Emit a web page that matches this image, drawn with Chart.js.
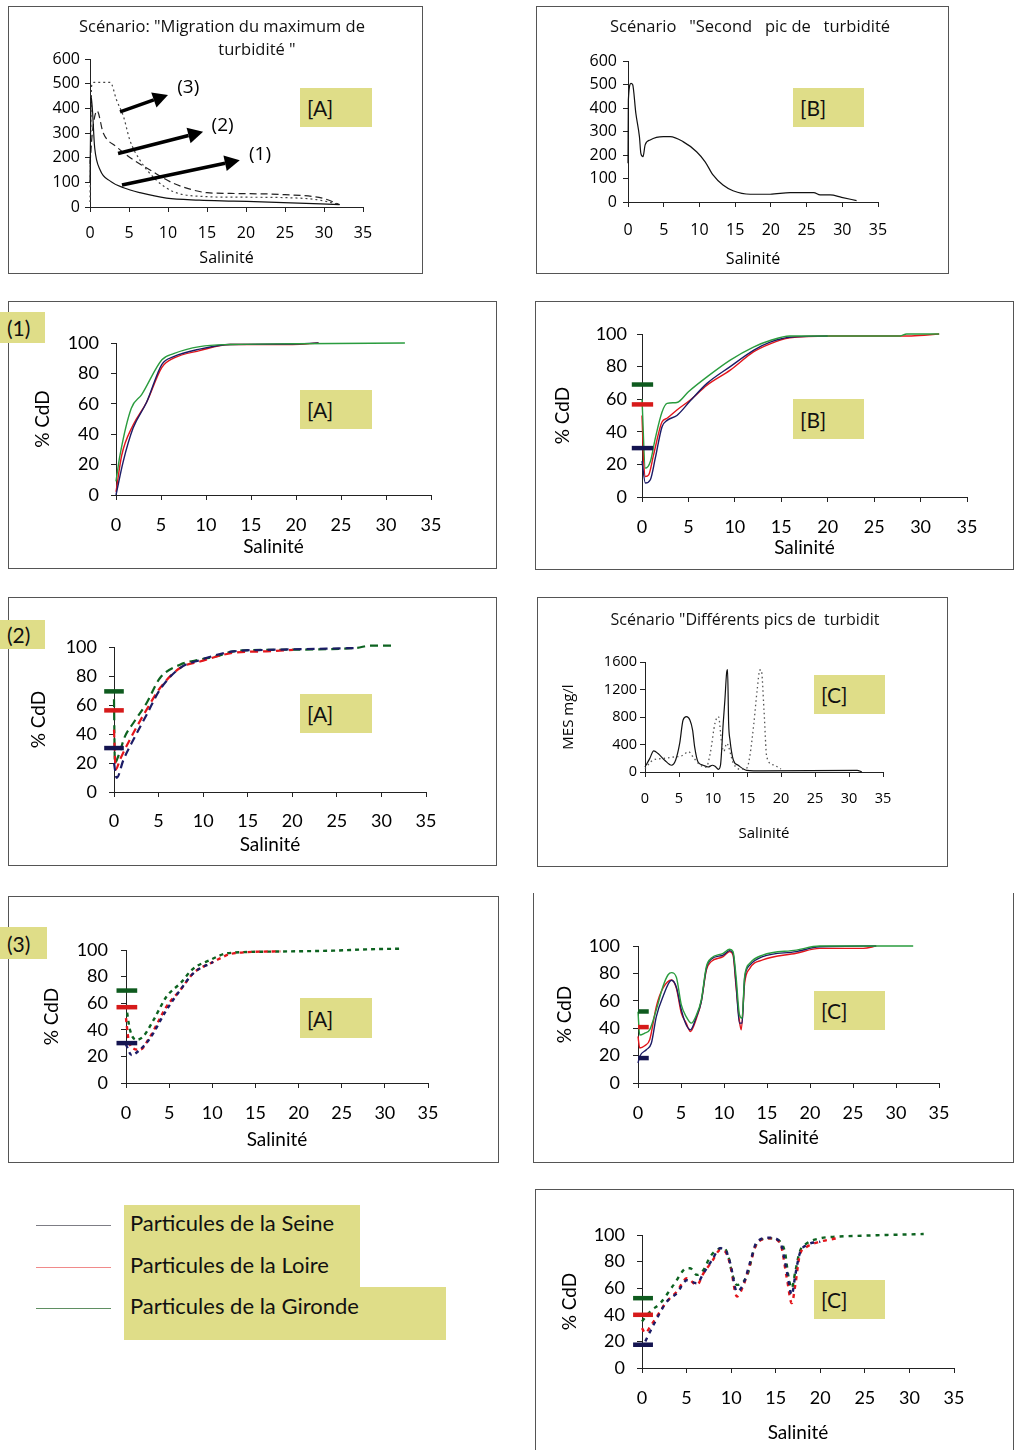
<!DOCTYPE html>
<html lang="fr">
<head>
<meta charset="utf-8">
<title>% CdD en fonction de la salinité</title>
<script src="https://cdn.jsdelivr.net/npm/chart.js@4.4.1/dist/chart.umd.min.js"></script>
<style>
  body { margin: 0; background: #fff; width: 1014px; height: 1450px; position: relative; overflow: hidden; font-family: Lato, sans-serif; }
  .frame { position: absolute; border: 1px solid #555; box-sizing: border-box; }
  canvas { position: absolute; }
  .tag { position: absolute; background: #dfdd88; color: #111; font-family: Lato, sans-serif; font-size: 21px;
         box-sizing: border-box; padding-left: 7px; display: flex; align-items: center; }
  .legend-line { position: absolute; height: 1px; width: 75px; left: 36px; }
  .legend-bg { position: absolute; background: #dfdd88; }
  .legend-text { position: absolute; left: 130px; font-family: Lato, sans-serif; font-size: 22px; color: #111; line-height: 26px; }
</style>
</head>
<body>
<script>
// ---- MES (mg/l) : scénario [A] migration du maximum de turbidité
const mesA1S = [0, 0.15, 0.6, 1.3, 2.6, 4.3, 6.4, 9.8, 14, 18.4, 24.8, 32];
const mesA1V = [100, 450, 240, 150, 105, 78, 58, 36, 28, 24, 18, 10];
const mesA2S = [0, 0.3, 0.9, 1.7, 3.4, 5.6, 7.7, 10.7, 13.2, 15, 18, 25, 29.9, 32];
const mesA2V = [175, 300, 390, 300, 244, 190, 150, 96, 69, 58, 55, 50, 35, 10];
const mesA3S = [0, 0.2, 0.5, 2.6, 3.4, 4.3, 5.1, 6.4, 8.5, 10.7, 15, 18, 25, 29, 32];
const mesA3V = [20, 490, 505, 505, 434, 366, 272, 190, 109, 62, 42, 40, 38, 30, 10];
// flèches (1) (2) (3)
const arrowFromS = [4.1, 3.6, 3.85], arrowFromV = [89, 217, 386];
const arrowToS = [19.2, 14.5, 10.0], arrowToV = [190, 305, 454];
const arrowLabS = [21.8, 17, 12.6], arrowLabV = [211, 332, 486];
const arrowLabels = ['(1)', '(2)', '(3)'];

// ---- MES : scénario [B] second pic de turbidité
const mesBS = [0, 0.05, 0.42, 0.65, 1.1, 1.6, 1.8, 2.1, 2.4, 3.1, 4.95, 5.9, 7.7, 9.6, 10.8, 11.9, 13.3, 14.7, 17.1, 19.9, 22.7, 26, 26.9, 28.3, 29.9, 32];
const mesBV = [165, 434, 505, 500, 377, 278, 207, 193, 243, 264, 278, 278, 257, 214, 171, 115, 72, 48, 33, 33, 40, 40, 30, 30, 20, 6];

// ---- MES : scénario [C] différents pics de turbidité
const mesC1S = [0, 0.69, 1.28, 1.92, 2.9, 3.9, 4.5, 5.1, 5.6, 6.1, 6.6, 7, 7.3, 7.8, 8.55, 9.3, 9.9, 10.3, 10.8, 11.1, 11.5, 11.75, 12, 12.14, 12.3, 12.5, 13, 13.7, 14.95, 17.4, 31.2, 31.9];
const mesC1V = [73, 195, 307, 268, 171, 98, 171, 415, 756, 805, 756, 610, 366, 146, 98, 73, 98, 83, 39, 98, 707, 1049, 1440, 1488, 707, 463, 171, 98, 24, 15, 24, 0];
const mesC2S = [0, 1.2, 2.5, 4, 5.5, 6.4, 7.2, 8, 9, 9.6, 10.3, 10.8, 11.3, 11.6, 12, 13, 14, 15, 15.4, 16, 16.5, 16.9, 17.1, 17.5, 17.9, 18.9, 20];
const mesC2V = [49, 175, 195, 215, 240, 295, 200, 110, 70, 276, 713, 805, 400, 300, 417, 126, 40, 60, 223, 700, 1200, 1484, 1484, 900, 223, 102, 44];

// ---- % CdD, scénario (1) [A]
const p1aSeineS = [0, 0.8, 1.9, 3.4, 5.1, 6.4, 9.3, 12.7, 19.6, 22.5];
const p1aSeineV = [0, 22, 44, 61, 86, 91, 96, 99, 99.3, 100];
const p1aLoireS = [0, 0.63, 1.9, 3.4, 5.1, 6.4, 9.3, 12.7, 19.6, 22.5];
const p1aLoireV = [2, 26, 46, 61, 84, 90, 95, 99, 99, 100];
const p1aGirondeS = [0, 0.44, 1.7, 2.85, 5.1, 6.4, 9.3, 12.7, 20, 32.1];
const p1aGirondeV = [9, 26, 57, 66, 89, 93, 97.6, 99, 99.5, 100];

// ---- % CdD, scénario [B]
const p1bStart = [30, 56.8, 69];   // Seine, Loire, Gironde
const p1bSeineS = [0, 0.36, 0.9, 1.43, 2.15, 2.7, 3.76, 5.2, 7, 9.5, 12, 13.8, 15.9, 20];
const p1bSeineV = [22, 8.6, 10.6, 23.8, 43, 47, 50, 59, 69.7, 80, 90, 95, 98, 98.8];
const p1bLoireS = [0, 0.18, 0.36, 0.72, 1.25, 2.15, 2.7, 3.76, 5.2, 7, 9.5, 12, 13.8, 15.9, 20.2, 29, 32];
const p1bLoireV = [50, 22, 12.6, 13.6, 26, 46, 48.3, 53.4, 59.5, 68.6, 77.8, 89, 94, 97.6, 98.8, 98.8, 100];
const p1bGirondeS = [0, 0.36, 0.9, 1.43, 2.15, 2.7, 3.76, 5, 7, 9.5, 12, 13.8, 15.9, 27.8, 28.5, 32];
const p1bGirondeV = [60, 17.7, 21.8, 36, 52, 57.4, 58, 64.6, 73.7, 84, 92, 96, 98.8, 98.8, 100, 100];

// ---- % CdD, scénario (2) [A]
const p2aStart = [30.3, 56.3, 69.4];
const p2aSeineS = [0, 0.3, 1.05, 2.17, 3.66, 5.16, 7.4, 9.65, 13.4, 17.1, 27.2];
const p2aSeineV = [20, 9.7, 22, 36, 53.3, 70.6, 85.5, 91, 97, 98, 99.3];
const p2aLoireS = [0, 0.19, 0.67, 2.17, 3.66, 5.16, 7.4, 9.65, 13.4, 17.1, 20.1];
const p2aLoireV = [43, 15.4, 22.3, 40.7, 56.8, 71.7, 85.5, 90, 96, 97, 98];
const p2aGirondeS = [0, 0.1, 0.5, 1.23, 2.17, 3.66, 5.16, 7.4, 9.65, 11.5, 13.4, 17.1, 27.2, 28.7, 31.3];
const p2aGirondeV = [64, 20, 25, 38.4, 47.6, 61.4, 78.6, 87.8, 91.3, 93.6, 97, 98, 99.3, 101, 101];

// ---- % CdD, scénario (3) [A]
const p3aStart = [30, 57, 69.5];
const p3aSeineS = [0, 0.66, 1.6, 2.8, 4.7, 6.3, 7.8, 10.1];
const p3aSeineV = [28.75, 21, 25, 33.75, 55, 70, 82.5, 91];
const p3aLoireS = [0, 0.27, 0.85, 1.6, 2.8, 4.7, 6.3, 7.8, 10.1, 12.45, 17.9];
const p3aLoireV = [48.75, 33.75, 26, 25, 35, 57.5, 70, 82.5, 91, 97.5, 99];
const p3aGirondeS = [0, 0.46, 1.24, 2, 3.2, 4.7, 6.3, 7.8, 9.75, 11.7, 16.3, 24, 27.9, 31.8];
const p3aGirondeV = [58.75, 40, 32.5, 35, 47.5, 65, 75, 86, 92.5, 97.5, 98.75, 99.5, 100.5, 101];

// ---- % CdD, scénario [C] (traits pleins)
const p3cStart = [18.2, 40.8, 52.2];
const p3cSeineS = [0, 0.2, 0.97, 1.55, 2.13, 2.9, 3.9, 4.46, 5.04, 5.6, 6.1, 6.8, 7.36, 7.95, 8.5, 9.9, 10.66, 11.05, 11.4, 11.8, 12.1, 12.4, 13, 14.5, 18.4, 21.1, 27.7];
const p3cSeineV = [14.6, 19.4, 24.3, 29, 48.5, 63, 75, 70, 53.4, 42.5, 38.8, 48.5, 59.5, 83.7, 90.3, 93.4, 96.6, 94.7, 72.8, 43.7, 43.7, 76.4, 86, 92.2, 95.9, 99.5, 100];
const p3cLoireS = [0, 0.2, 0.78, 1.36, 2.13, 2.9, 3.9, 4.46, 5.04, 5.6, 6.1, 6.8, 7.36, 7.95, 8.5, 9.9, 10.66, 11.05, 11.4, 11.8, 12, 12.4, 13, 14.5, 18.4, 21.1, 26.2, 27.7];
const p3cLoireV = [34, 25.5, 27.2, 31.6, 55.8, 69.2, 75.2, 69.2, 51, 43.7, 37.6, 47.3, 59.5, 82.5, 88.6, 92.2, 95.9, 93.4, 70.4, 45, 38.8, 72.8, 83.7, 89.8, 94.7, 98.3, 98.3, 100];
const p3cGirondeS = [0, 0.2, 0.78, 1.36, 2.13, 2.9, 3.5, 3.9, 4.46, 5.04, 5.6, 6.2, 6.8, 7.36, 7.95, 8.5, 9.9, 10.66, 11.05, 11.4, 11.8, 12.1, 12.4, 13, 14.5, 18.4, 21.1, 32];
const p3cGirondeV = [52, 35, 36.4, 38.8, 53.4, 70.4, 79, 80.6, 77.2, 57, 48.5, 43.7, 49.8, 60.7, 85, 91, 94.7, 97.6, 95.9, 77.7, 49.8, 47.3, 77.7, 87.4, 93.4, 97, 100, 100];

// ---- % CdD, scénario [C] (tirets)
const p4cStart = [17.5, 40, 52.5];
const p4cSeineS = [0.37, 1.3, 2.8, 3.92, 5.04, 6.16, 6.9, 7.84, 8.78, 9.34, 9.9, 10.65, 11.4, 12.15, 12.9, 14.4, 15.5, 16.25, 16.8, 17.2, 17.7, 18.5, 20];
const p4cSeineV = [20, 32.5, 50, 56.25, 66, 63.75, 71.25, 81, 90, 88.75, 78.75, 57.5, 63.75, 80, 95, 98, 94.5, 72.5, 55, 70, 86.25, 92.5, 95];
const p4cLoireS = [0, 0.37, 0.93, 2.8, 3.92, 5.04, 6.16, 6.9, 7.84, 8.78, 9.34, 9.9, 10.65, 11.4, 12.15, 12.9, 14.4, 15.5, 16.25, 16.8, 17.2, 17.7, 18.5, 20, 21.85];
const p4cLoireV = [30, 26.25, 31.25, 50, 57.5, 67.5, 62.5, 71.25, 80, 88.75, 87.5, 77.5, 53.75, 62.5, 78.75, 93.75, 97.5, 93.75, 67.5, 48.75, 62.5, 85, 91.25, 95, 97.5];
const p4cGirondeS = [0, 0.93, 2.05, 3.55, 5.04, 5.4, 6.16, 6.9, 7.66, 8.4, 9.15, 9.7, 10.1, 10.65, 11.4, 11.95, 12.5, 13.26, 14.4, 15.5, 16.06, 16.4, 16.8, 17.2, 17.7, 18.5, 20, 21.85, 24.8, 31.6];
const p4cGirondeV = [35, 42.5, 48.75, 62.5, 75, 75, 70, 73.75, 83.75, 88.75, 90.5, 83.75, 71.25, 62.5, 65, 72.5, 87.5, 96.25, 97.5, 95, 86.25, 70, 60, 72.5, 87.5, 93.75, 97.5, 98.75, 99.5, 100.75];

const xTicks = [0, 5, 10, 15, 20, 25, 30, 35];

const SEINE = '#1c1c66', LOIRE = '#e3151b', GIRONDE = '#2a9c3e', GIRONDE_DARK = '#0d6320';
const BAR_COLORS = ['#141450', '#d61a1a', '#0e5a1e'];

Chart.defaults.font.family = 'Lato, sans-serif';

function pts(xs, ys) {
    return xs.map((x, i) => ({x: x, y: ys[i]}));
}

function curve(xs, ys, color, width, dash) {
    return {
        data: pts(xs, ys), borderColor: color, borderWidth: width, borderDash: dash || [],
        pointRadius: 0, cubicInterpolationMode: 'monotone', clip: false, fill: false
    };
}

// short thick marks giving the initial value of each series
function startBars(values, from, to) {
    return values.map((v, i) => ({
        data: pts([from, to], [v, v]), borderColor: BAR_COLORS[i], borderWidth: 4.5,
        pointRadius: 0, clip: false, fill: false
    }));
}

// text drawn on the canvas at page coordinates
const pageText = {
    id: 'pageText',
    afterDraw(chart, args, opts) {
        const ctx = chart.ctx;
        (opts.items || []).forEach(it => {
            ctx.save();
            ctx.font = it.font;
            ctx.fillStyle = '#111';
            ctx.textAlign = it.align || 'center';
            ctx.textBaseline = 'middle';
            ctx.fillText(it.text, it.x - opts.left, it.y - opts.top);
            ctx.restore();
        });
    }
};

// arrows of the first chart, placed with the scales
const arrows = {
    id: 'arrows',
    afterDatasetsDraw(chart, args, opts) {
        if (!opts.show) return;
        const ctx = chart.ctx, xs = chart.scales.x, ys = chart.scales.y;
        arrowFromS.forEach((s, i) => {
            const x1 = xs.getPixelForValue(s), y1 = ys.getPixelForValue(arrowFromV[i]);
            const x2 = xs.getPixelForValue(arrowToS[i]), y2 = ys.getPixelForValue(arrowToV[i]);
            const a = Math.atan2(y2 - y1, x2 - x1);
            const hx = x2 - 15 * Math.cos(a), hy = y2 - 15 * Math.sin(a);
            ctx.save();
            ctx.strokeStyle = '#000';
            ctx.fillStyle = '#000';
            ctx.lineWidth = 3.5;
            ctx.beginPath();
            ctx.moveTo(x1, y1);
            ctx.lineTo(hx, hy);
            ctx.stroke();
            ctx.beginPath();
            ctx.moveTo(x2, y2);
            ctx.lineTo(hx + 8 * Math.sin(a), hy - 8 * Math.cos(a));
            ctx.lineTo(hx - 8 * Math.sin(a), hy + 8 * Math.cos(a));
            ctx.closePath();
            ctx.fill();
            ctx.font = '19px "Open Sans"';
            ctx.textAlign = 'center';
            ctx.textBaseline = 'middle';
            ctx.fillText(arrowLabels[i], xs.getPixelForValue(arrowLabS[i]), ys.getPixelForValue(arrowLabV[i]));
            ctx.restore();
        });
    }
};

function makePanel(cfg) {
    const [l, t, r, b] = cfg.box;
    const w = r - l, h = b - t;
    const frame = document.createElement('div');
    frame.className = 'frame';
    frame.style.cssText = `left:${l}px;top:${t}px;width:${w}px;height:${h}px;` + (cfg.frameExtra || '');
    document.body.appendChild(frame);

    const cv = document.createElement('canvas');
    cv.width = w;
    cv.height = h;
    cv.style.left = l + 'px';
    cv.style.top = t + 'px';
    document.body.appendChild(cv);

    const [x0, yTop, x1, yBot] = cfg.plot;
    const fam = cfg.family, tickSize = cfg.tickSize, titleSize = cfg.titleSize;
    const tl = 5;
    const tickLH = tickSize * 1.2, titleLH = titleSize * 1.2;

    new Chart(cv, {
        type: 'line',
        data: {datasets: cfg.datasets},
        options: {
            responsive: false,
            animation: false,
            devicePixelRatio: 1,
            events: [],
            layout: {padding: {left: 0, top: yTop - t, right: r - x1, bottom: 0}},
            plugins: {
                legend: {display: false},
                tooltip: {enabled: false},
                pageText: {items: cfg.texts || [], left: l, top: t},
                arrows: {show: !!cfg.arrows}
            },
            scales: {
                x: {
                    type: 'linear', min: 0, max: 35,
                    afterFit: s => { s.height = b - yBot; },
                    afterBuildTicks: s => { s.ticks = xTicks.map(v => ({value: v})); },
                    ticks: {autoSkip: false, maxRotation: 0, color: '#000',
                            padding: cfg.xLabelY - yBot - tl - tickLH / 2,
                            font: {family: fam, size: tickSize}},
                    grid: {drawOnChartArea: false, drawTicks: true, tickLength: tl, color: '#222'},
                    border: {color: '#222', width: 1},
                    title: {display: true, text: 'Salinité', color: '#000',
                            font: {family: fam, size: titleSize},
                            padding: {top: 0, bottom: b - cfg.xTitleY - titleLH / 2}}
                },
                y: {
                    min: 0, max: cfg.yMax,
                    afterFit: s => { s.width = x0 - l; },
                    ticks: {stepSize: cfg.yStep, color: '#000',
                            callback: v => String(v),
                            padding: x0 - tl - cfg.yLabelRight,
                            font: {family: fam, size: tickSize}},
                    grid: {drawOnChartArea: false, drawTicks: true, tickLength: tl, color: '#222'},
                    border: {color: '#222', width: 1},
                    title: cfg.yTitle ? {display: true, text: cfg.yTitle, color: '#000',
                            font: {family: fam, size: titleSize},
                            padding: {top: cfg.yTitleX - l - titleLH / 2, bottom: 0}} : {display: false}
                }
            }
        },
        plugins: [pageText, arrows]
    });
}

function tag(text, x0, y0, x1, y1) {
    const d = document.createElement('div');
    d.className = 'tag';
    d.style.cssText = `left:${x0}px;top:${y0}px;width:${x1 - x0}px;height:${y1 - y0}px;`;
    d.textContent = text;
    document.body.appendChild(d);
}

const OS = '"Open Sans", sans-serif';
const LT = 'Lato, sans-serif';

// [A] MES
makePanel({
    box: [8, 6, 423, 274], plot: [90, 59, 363, 207],
    family: OS, tickSize: 16, titleSize: 16, yMax: 600, yStep: 100,
    yLabelRight: 80, xLabelY: 233, xTitleY: 258, arrows: true,
    texts: [
        {text: 'Scénario: "Migration du maximum de', x: 222, y: 27, font: '16.5px "Open Sans"'},
        {text: 'turbidité "', x: 257, y: 50, font: '16.5px "Open Sans"'}
    ],
    datasets: [
        curve(mesA1S, mesA1V, '#111', 1.2),
        curve(mesA2S, mesA2V, '#222', 1.2, [7, 4]),
        curve(mesA3S, mesA3V, '#444', 1.2, [2, 3])
    ]
});
tag('[A]', 300, 88, 372, 127);

// [B] MES
makePanel({
    box: [536, 6, 949, 274], plot: [628, 61, 878, 202],
    family: OS, tickSize: 16, titleSize: 16, yMax: 600, yStep: 100,
    yLabelRight: 617, xLabelY: 230, xTitleY: 259,
    texts: [{text: 'Scénario   "Second   pic de   turbidité', x: 750, y: 27, font: '16.5px "Open Sans"'}],
    datasets: [curve(mesBS, mesBV, '#111', 1.2)]
});
tag('[B]', 793, 88, 864, 127);

// (1) [A]
makePanel({
    box: [8, 301, 497, 569], plot: [116, 343, 431, 495],
    family: LT, tickSize: 18, titleSize: 19, yMax: 100, yStep: 20,
    yLabelRight: 99, xLabelY: 525, xTitleY: 547, yTitle: '% CdD', yTitleX: 43,
    datasets: [
        curve(p1aGirondeS, p1aGirondeV, GIRONDE, 1.4),
        curve(p1aSeineS, p1aSeineV, SEINE, 1.4),
        curve(p1aLoireS, p1aLoireV, LOIRE, 1.4)
    ]
});
tag('(1)', 0, 312, 45, 343);
tag('[A]', 300, 390, 372, 429);

// [B] % CdD
makePanel({
    box: [535, 301, 1014, 570], plot: [642, 334, 967, 497],
    family: LT, tickSize: 18, titleSize: 19, yMax: 100, yStep: 20,
    yLabelRight: 627, xLabelY: 527, xTitleY: 548, yTitle: '% CdD', yTitleX: 563,
    datasets: [
        ...startBars(p1bStart, -1.1, 1.2),
        curve(p1bGirondeS, p1bGirondeV, GIRONDE, 1.4),
        curve(p1bSeineS, p1bSeineV, SEINE, 1.4),
        curve(p1bLoireS, p1bLoireV, LOIRE, 1.4)
    ]
});
tag('[B]', 793, 399, 864, 439);

// (2) [A]
makePanel({
    box: [8, 597, 497, 866], plot: [114, 647, 426, 792],
    family: LT, tickSize: 18, titleSize: 19, yMax: 100, yStep: 20,
    yLabelRight: 97, xLabelY: 821, xTitleY: 845, yTitle: '% CdD', yTitleX: 39,
    datasets: [
        ...startBars(p2aStart, -1.1, 1.1),
        curve(p2aSeineS, p2aSeineV, SEINE, 2.2, [8, 5]),
        curve(p2aLoireS, p2aLoireV, LOIRE, 2.2, [8, 5]),
        curve(p2aGirondeS, p2aGirondeV, GIRONDE_DARK, 2.2, [8, 5])
    ]
});
tag('(2)', 0, 620, 45, 649);
tag('[A]', 300, 694, 372, 733);

// [C] MES
makePanel({
    box: [537, 597, 948, 867], plot: [645, 662, 883, 772],
    family: OS, tickSize: 14.5, titleSize: 15, yMax: 1600, yStep: 400,
    yLabelRight: 637, xLabelY: 799, xTitleY: 834, yTitle: 'MES mg/l', yTitleX: 569,
    texts: [{text: 'Scénario "Différents pics de  turbidit', x: 745, y: 620, font: '16px "Open Sans"'}],
    datasets: [
        curve(mesC2S, mesC2V, '#555', 1.3, [1.5, 3]),
        curve(mesC1S, mesC1V, '#111', 1.2)
    ]
});
tag('[C]', 814, 675, 885, 714);

// (3) [A]
makePanel({
    box: [8, 896, 499, 1163], plot: [126, 950, 428, 1083],
    family: LT, tickSize: 18, titleSize: 19, yMax: 100, yStep: 20,
    yLabelRight: 108, xLabelY: 1113, xTitleY: 1140, yTitle: '% CdD', yTitleX: 52,
    datasets: [
        ...startBars(p3aStart, -1.1, 1.3),
        curve(p3aSeineS, p3aSeineV, SEINE, 2.4, [4, 4]),
        curve(p3aLoireS, p3aLoireV, LOIRE, 2.4, [4, 4]),
        curve(p3aGirondeS, p3aGirondeV, GIRONDE_DARK, 2.4, [4, 4])
    ]
});
tag('(3)', 0, 927, 47, 959);
tag('[A]', 300, 998, 372, 1038);

// [C] % CdD, traits pleins
makePanel({
    box: [533, 893, 1014, 1163], plot: [638, 946, 939, 1083],
    family: LT, tickSize: 18, titleSize: 19, yMax: 100, yStep: 20,
    yLabelRight: 620, xLabelY: 1113, xTitleY: 1138, yTitle: '% CdD', yTitleX: 565,
    frameExtra: 'border-top:none;',
    datasets: [
        ...startBars(p3cStart, 0, 1.25),
        curve(p3cGirondeS, p3cGirondeV, GIRONDE, 1.4),
        curve(p3cSeineS, p3cSeineV, SEINE, 1.4),
        curve(p3cLoireS, p3cLoireV, LOIRE, 1.4)
    ]
});
tag('[C]', 814, 991, 885, 1030);

// [C] % CdD, tirets
makePanel({
    box: [535, 1189, 1014, 1452], plot: [642, 1235, 954, 1368],
    family: LT, tickSize: 18, titleSize: 19, yMax: 100, yStep: 20,
    yLabelRight: 625, xLabelY: 1398, xTitleY: 1433, yTitle: '% CdD', yTitleX: 570,
    datasets: [
        ...startBars(p4cStart, -1.0, 1.23),
        curve(p4cSeineS, p4cSeineV, SEINE, 2.4, [4, 5]),
        curve(p4cLoireS, p4cLoireV, LOIRE, 2.4, [4, 5]),
        curve(p4cGirondeS, p4cGirondeV, GIRONDE_DARK, 2.4, [4, 5])
    ]
});
tag('[C]', 814, 1280, 885, 1319);

// legend
const legendNames = ['Particules de la Seine', 'Particules de la Loire', 'Particules de la Gironde'];
const legendColors = ['#7d7d85', '#f08a8a', '#5f8f62'];
const legendY = [1225, 1267, 1308];
[[124, 1205, 236, 82], [124, 1287, 322, 53]].forEach(([x, y, w, h]) => {
    const d = document.createElement('div');
    d.className = 'legend-bg';
    d.style.cssText = `left:${x}px;top:${y}px;width:${w}px;height:${h}px;`;
    document.body.appendChild(d);
});
legendNames.forEach((name, i) => {
    const line = document.createElement('div');
    line.className = 'legend-line';
    line.style.top = legendY[i] + 'px';
    line.style.background = legendColors[i];
    document.body.appendChild(line);
    const txt = document.createElement('div');
    txt.className = 'legend-text';
    txt.style.top = (legendY[i] - 15) + 'px';
    txt.textContent = name;
    document.body.appendChild(txt);
});
</script>
</body>
</html>
